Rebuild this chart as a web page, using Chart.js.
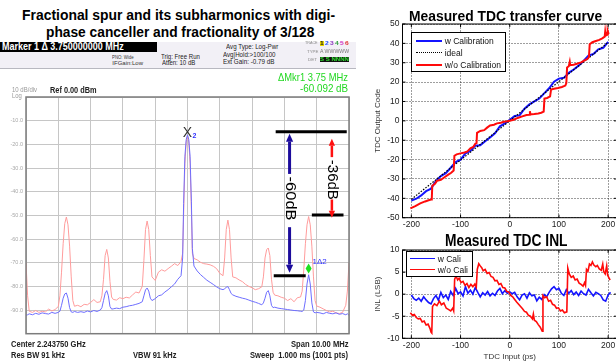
<!DOCTYPE html>
<html>
<head>
<meta charset="utf-8">
<script src="https://cdn.jsdelivr.net/npm/chart.js@4.4.1/dist/chart.umd.min.js"></script>
<style>
  body { margin: 0; width: 616px; height: 363px; overflow: hidden; background: #fff; position: relative; font-family: "Liberation Sans", Arial, sans-serif; }
  canvas, .t, .box { position: absolute; }
  .t { white-space: pre; transform-origin: 0 50%; line-height: 1; }
  .legend { position: absolute; background: #fff; border: 1.3px solid #000; box-sizing: border-box; }
  .legend .sample { position: absolute; height: 0; }
  .legend .lbl { position: absolute; white-space: nowrap; line-height: 1; transform: translateY(-50%); color: #111; }
</style>
</head>
<body>
<div class="box" style="left:0;top:42px;width:356px;height:26px;background:#f2f0f6;border-bottom:1px solid #b8b8c0;"></div>
<div class="box" style="left:0;top:41.7px;width:157px;height:10.6px;background:#000;"></div>
<canvas id="spec" width="360" height="250" style="left:0;top:90px"></canvas>
<canvas id="tdc" width="262" height="235" style="left:360px;top:0"></canvas>
<canvas id="inl" width="262" height="123" style="left:360px;top:240px"></canvas>
<div id="texts"></div>
<div id="legTdc" class="legend" style="left:410.7px;top:32.3px;width:95px;height:39.4px"></div>
<div id="legInl" class="legend" style="left:405.7px;top:251px;width:67.3px;height:26.3px"></div>
<script>
// Spectrum: offset from 2.243750 GHz in MHz, level in dBm
const specFreqMHz = [-5.0, -4.95, -4.9, -4.8, -4.7, -4.6, -4.5, -4.4, -4.3, -4.2, -4.1, -4.0, -3.95, -3.9, -3.85, -3.8, -3.75, -3.7, -3.65, -3.6, -3.55, -3.5, -3.4, -3.3, -3.2, -3.1, -3.0, -2.9, -2.8, -2.7, -2.65, -2.6, -2.55, -2.5, -2.45, -2.4, -2.35, -2.3, -2.2, -2.1, -2.0, -1.9, -1.8, -1.7, -1.6, -1.5, -1.4, -1.35, -1.3, -1.25, -1.2, -1.15, -1.1, -1.0, -0.9, -0.8, -0.7, -0.6, -0.5, -0.4, -0.3, -0.2, -0.15, -0.12, -0.08, -0.04, 0, 0.04, 0.08, 0.12, 0.15, 0.2, 0.3, 0.4, 0.5, 0.6, 0.7, 0.8, 0.9, 1.0, 1.1, 1.15, 1.2, 1.25, 1.3, 1.35, 1.4, 1.5, 1.6, 1.7, 1.8, 1.9, 2.0, 2.1, 2.2, 2.3, 2.35, 2.4, 2.45, 2.5, 2.55, 2.6, 2.65, 2.7, 2.8, 2.9, 3.0, 3.1, 3.2, 3.3, 3.4, 3.5, 3.55, 3.6, 3.65, 3.7, 3.75, 3.8, 3.85, 3.9, 3.95, 4.0, 4.1, 4.2, 4.3, 4.4, 4.5, 4.6, 4.7, 4.8, 4.9, 4.95, 5.0];
const specWithoutCanceller = [-70, -84, -90.5, -91, -90.2, -91, -90.5, -90.8, -89.6, -90.4, -89.8, -88.5, -84, -74, -62, -53.5, -50.7, -54, -63, -76, -86, -88.4, -88, -88.6, -87.6, -87.8, -86.8, -85.6, -86.8, -86.5, -84, -77, -67, -64.4, -68, -78, -84.5, -85.5, -85.8, -84.8, -85.2, -84.6, -84.9, -83.6, -82.4, -82.8, -80, -69, -56, -52.4, -56, -67, -76, -77.5, -74, -73, -73.6, -72.5, -71.5, -70.4, -71.2, -69.5, -66, -50, -28, -19, -16.5, -19, -28, -48, -66, -68.2, -68.8, -69.8, -70.4, -70.6, -70.9, -71.5, -72.5, -74.5, -75.5, -68, -56, -52, -56, -68, -76, -76.4, -77.3, -78, -79.2, -80, -80.6, -81.4, -81, -80.2, -76, -68, -64.5, -63.8, -67, -77, -82.5, -83.7, -84, -84.6, -85, -86, -85.2, -86.5, -84.8, -84.5, -82, -73, -62, -54, -50.5, -54, -63, -76, -86, -88.3, -88.8, -89.5, -90.2, -90.8, -90.5, -91.2, -91.5, -91, -88, -82, -70];
const specWithCanceller = [-92.2, -92.0, -91.6, -92.0, -91.4, -91.8, -91.2, -91.5, -91.7, -91.0, -91.4, -91.0, -90.5, -88, -85, -83.2, -82.8, -85, -89, -90.8, -91, -90.6, -91, -90.7, -91, -90.4, -90.8, -90.2, -90.6, -90, -89, -86, -83, -81.8, -84, -88.5, -89.6, -89.5, -89.2, -89.4, -88.8, -88.6, -88.2, -88, -87.6, -87.2, -86.5, -84, -81.5, -80.7, -82, -85, -86, -85.2, -84, -83.6, -82.4, -81.4, -80.2, -79, -77, -75.5, -68, -45, -25, -18, -16, -18, -25, -44, -64, -71.4, -73.5, -75, -76.2, -77.4, -78.3, -79.2, -80.2, -81, -81.4, -81, -80.4, -80.1, -81.4, -83, -83.6, -84.2, -84.6, -85, -85.3, -85.8, -86.3, -86.7, -87.2, -87.8, -87, -85, -82.5, -81.8, -84, -88, -89, -88.8, -89.2, -89.4, -89.6, -89.8, -90, -90.2, -90.3, -90.5, -90.6, -90, -86, -79, -75.1, -79, -87, -90.8, -91.2, -91, -91.2, -91.6, -91, -91.4, -91.6, -91.2, -91.8, -91.5, -92, -91.6, -92.2];
const specDbTicks = [-10, -20, -30, -40, -50, -60, -70, -80, -90];

// TDC transfer curve
const psTicks = [-200, -100, 0, 100, 200];
const codeTicks = [-50, -40, -30, -20, -10, 0, 10, 20, 30, 40, 50];
const tdcInputPs = [-200, -190, -180, -170, -160, -150, -140, -130, -120, -110, -100, -90, -80, -70, -60, -50, -40, -30, -20, -10, 0, 10, 20, 30, 40, 50, 60, 70, 80, 90, 100, 110, 120, 130, 140, 150, 160, 170, 180, 190, 200];
const codeWithCal = [-41.2, -40.2, -38.5, -36.3, -35.0, -31.0, -28.5, -27.0, -24.2, -21.3, -20.0, -16.8, -15.5, -12.8, -12.6, -10.5, -8.6, -6.4, -2.8, -1.3, 0.5, 2.5, 2.8, 6.3, 8.5, 10.0, 11.5, 14.2, 16.8, 20.2, 21.8, 22.2, 24.8, 26.5, 28.5, 30.9, 33.7, 34.5, 36.9, 37.7, 40.8];
const idealPs = [-200, 200];
const idealCode = [-40.5, 40.5];
const noCalPs = [-202, -192, -182, -172, -165, -160, -158.5, -157.5, -152, -148, -140, -132, -125, -119, -114, -112.5, -108, -100, -92, -86, -80, -74, -70, -67.5, -66.5, -60, -52, -46, -40, -32, -26, -18, -12, -5, 0, 8, 16, 24, 34, 40, 41, 42, 50, 58, 64, 69, 70.5, 76, 82, 84, 90, 98, 106, 113, 115, 116.5, 120, 122, 123, 130, 138, 145, 152, 158, 161, 162.5, 168, 175, 182, 188, 193, 194, 195, 198, 199, 201];
const codeNoCal = [-45.2, -44.0, -42.6, -41.6, -41.0, -40.6, -40.5, -33.5, -32.5, -31.0, -30.4, -29.0, -27.8, -26.8, -25.6, -18.0, -17.3, -16.8, -16.3, -15.8, -14.2, -13.4, -11.8, -11.5, -6.2, -5.2, -4.8, -3.5, -2.4, -2.0, -1.3, -1.0, -0.5, -0.2, 0.1, 0.6, 1.5, 2.2, 3.0, 3.2, 5.0, 3.3, 3.5, 3.8, 4.2, 4.8, 11.5, 11.8, 12.6, 16.2, 16.6, 17.0, 17.5, 18.2, 19.5, 27.5, 28.2, 30.5, 28.8, 29.0, 29.6, 30.2, 31.2, 32.0, 33.0, 39.5, 40.6, 41.2, 41.8, 42.6, 43.5, 46.0, 44.0, 44.5, 46.5, 44.8];

// TDC INL
const inlTicks = [-10, -5, 0, 5, 10];
const inlCaliPs = [-200, -195, -190, -185, -180, -175, -170, -165, -160, -155, -150, -145, -140, -135, -130, -125, -120, -115, -110, -105, -100, -95, -90, -85, -80, -75, -70, -65, -60, -55, -50, -45, -40, -35, -30, -25, -20, -15, -10, -5, 0, 5, 10, 15, 20, 25, 30, 35, 40, 45, 50, 55, 60, 65, 70, 75, 80, 85, 90, 95, 100, 105, 110, 115, 120, 125, 130, 135, 140, 145, 150, 155, 160, 165, 170, 175, 180, 185, 190, 195, 200, 205];
const inlCali = [-0.2, -1.0, -1.4, -0.9, -1.6, -0.6, -1.3, -1.9, -2.2, -1.0, -0.3, -1.4, 0.4, -0.8, -0.2, -1.2, 0.6, -0.3, 1.3, 0.1, 0.5, -0.4, 1.7, 0.2, 0.9, 0.0, 1.5, 0.4, -0.6, 0.3, -0.2, 0.6, -0.4, 0.2, -0.3, 0.7, 1.3, 0.1, 0.8, 0.2, 0.5, 0.1, 0.4, -0.6, -1.3, -0.2, 0.1, -0.9, 0.3, -0.4, -0.2, -1.5, -0.7, -1.2, -0.1, -0.6, 0.4, 1.2, 1.7, 1.0, 1.3, 0.2, -0.3, 1.0, 0.2, 0.8, -0.1, 0.5, -0.3, 0.7, 0.1, -0.2, 1.1, 0.3, -0.4, 0.4, 0.1, -0.3, -1.3, -1.6, -0.2, 0.4];
const inlNoCaliPs = [-202, -198, -194, -190, -186, -182, -178, -174, -170, -166, -162, -160, -158.5, -157, -153, -148, -143, -139, -134, -129, -124, -120, -116, -114, -112, -109, -106, -103, -99, -95, -91, -87, -83, -79, -75, -71, -68, -66, -63, -60, -57, -54, -50, -46, -42, -38, -34, -30, -26, -22, -18, -14, -10, -6, -2, 2, 6, 10, 14, 18, 22, 26, 30, 34, 38, 42, 46, 48, 50, 54, 58, 62, 66, 67.5, 71, 75, 79, 83, 87, 91, 95, 99, 103, 107, 111, 116, 118, 121, 125, 129, 133, 137, 141, 145, 149, 152, 154, 156, 159, 162, 165, 168, 171, 175, 178, 182, 186, 189, 191, 194, 197, 199, 202, 204];
const inlNoCali = [-4.2, -4.8, -4.6, -5.3, -5.6, -5.5, -6.3, -6.1, -7.0, -6.8, -7.8, -8.6, -8.8, -2.8, -2.2, -2.6, -1.6, -2.4, -2.0, -3.2, -3.5, -3.8, -3.2, -3.8, 3.4, 4.1, 3.2, 3.6, 2.6, 2.9, 2.0, 2.4, 1.5, 2.2, 1.7, 2.3, 1.6, 5.6, 6.9, 6.4, 6.0, 5.3, 5.6, 4.7, 4.9, 4.0, 3.8, 3.0, 3.1, 2.2, 2.4, 1.5, 1.4, 0.6, 0.5, -0.3, -0.6, -1.2, -1.8, -2.3, -2.8, -3.3, -3.9, -4.1, -4.8, -5.0, -5.6, -4.5, -5.9, -6.2, -6.9, -7.5, -8.4, -0.3, -0.8, -0.6, -1.6, -1.4, -2.3, -2.5, -3.2, -3.1, -3.8, -3.6, -4.2, -4.0, 5.9, 4.6, 3.8, 4.1, 3.2, 3.4, 2.5, 2.2, 1.8, 2.6, 2.0, 5.6, 5.2, 6.8, 6.5, 7.3, 6.6, 6.2, 6.5, 5.7, 5.4, 6.8, 5.1, 4.6, 6.4, 4.3, 3.6, 3.2];

Chart.defaults.font.family = '"Liberation Sans", Arial, sans-serif';
Chart.defaults.color = '#222';

const pts = (xs, ys) => xs.map((x, i) => ({ x: x, y: ys[i] }));

// frame around the plot area, with optional inward ticks (matlab style)
const boxPlugin = {
  id: 'box',
  afterDraw(chart, args, o) {
    const { ctx, chartArea: a, scales } = chart;
    ctx.save();
    ctx.strokeStyle = o.color;
    ctx.lineWidth = o.width;
    ctx.strokeRect(a.left, a.top, a.right - a.left, a.bottom - a.top);
    if (o.tick) {
      ctx.lineWidth = 1;
      ctx.beginPath();
      scales.x.ticks.forEach(t => {
        const p = scales.x.getPixelForValue(t.value);
        ctx.moveTo(p, a.bottom); ctx.lineTo(p, a.bottom - o.tick);
        ctx.moveTo(p, a.top); ctx.lineTo(p, a.top + o.tick);
      });
      scales.y.ticks.forEach(t => {
        const p = scales.y.getPixelForValue(t.value);
        ctx.moveTo(a.left, p); ctx.lineTo(a.left + o.tick, p);
        ctx.moveTo(a.right, p); ctx.lineTo(a.right - o.tick, p);
      });
      ctx.stroke();
    }
    ctx.restore();
  }
};

function arrow(ctx, x, y0, y1, color, w, head) {
  const dir = Math.sign(y1 - y0);
  ctx.strokeStyle = color;
  ctx.fillStyle = color;
  ctx.lineWidth = w;
  ctx.beginPath();
  ctx.moveTo(x, y0);
  ctx.lineTo(x, y1 - dir * head);
  ctx.stroke();
  ctx.beginPath();
  ctx.moveTo(x, y1);
  ctx.lineTo(x - head * 0.45, y1 - dir * head);
  ctx.lineTo(x + head * 0.45, y1 - dir * head);
  ctx.closePath();
  ctx.fill();
}

function vtext(ctx, s, x, y, len) {
  ctx.save();
  ctx.translate(x, y);
  ctx.rotate(Math.PI / 2);
  ctx.font = '14px "Liberation Sans"';
  ctx.fillStyle = '#000';
  ctx.textAlign = 'center';
  ctx.textBaseline = 'middle';
  ctx.scale(len / ctx.measureText(s).width, 1);
  ctx.fillText(s, 0, 0);
  ctx.restore();
}

// level bars, arrows and markers on the spectrum
const specMarks = {
  id: 'specMarks',
  afterDatasetsDraw(chart) {
    const { ctx, scales: { x, y } } = chart;
    const X = v => x.getPixelForValue(v), Y = v => y.getPixelForValue(v);
    ctx.save();
    ctx.strokeStyle = '#000';
    ctx.lineWidth = 3;
    [[2.73, 4.93, -14.7], [3.85, 4.83, -49.9], [2.67, 3.66, -75.5]].forEach(([a, b, v]) => {
      ctx.beginPath(); ctx.moveTo(X(a), Y(v)); ctx.lineTo(X(b), Y(v)); ctx.stroke();
    });
    arrow(ctx, X(3.16), Y(-32.5), Y(-15.5), '#1c0c9c', 3, 8);
    arrow(ctx, X(3.16), Y(-55), Y(-74.2), '#1c0c9c', 3, 8);
    arrow(ctx, X(4.47), Y(-25.4), Y(-17.6), '#ff1010', 2.5, 7);
    arrow(ctx, X(4.47), Y(-43.3), Y(-51), '#ff1010', 2.5, 7);
    vtext(ctx, '-60dB', X(3.16), Y(-42.9), 44);
    vtext(ctx, '-36dB', X(4.47), Y(-35), 40);

    ctx.textAlign = 'center';
    ctx.textBaseline = 'middle';
    ctx.fillStyle = '#333';
    ctx.font = '14px "Liberation Sans"';
    ctx.fillText('X', X(0), Y(-15.3));
    ctx.fillStyle = '#3030ff';
    ctx.font = 'bold 7px "Liberation Sans"';
    ctx.fillText('2', X(0) + 7, Y(-16.3));

    const dx = X(3.75), dy = Y(-72.5);
    ctx.fillStyle = '#20e020';
    ctx.beginPath();
    ctx.moveTo(dx, dy - 5); ctx.lineTo(dx + 3, dy); ctx.lineTo(dx, dy + 5); ctx.lineTo(dx - 3, dy);
    ctx.closePath(); ctx.fill();
    ctx.fillStyle = '#3030ff';
    ctx.textAlign = 'left';
    ctx.font = '8px "Liberation Sans"';
    ctx.fillText('1\u03942', X(3.87), Y(-69.6));
    ctx.restore();
  }
};

const specGrid = { color: '#c6c6c6', drawTicks: false };

new Chart(document.getElementById('spec'), {
  type: 'line',
  data: {
    datasets: [
      { label: 'with canceller', data: pts(specFreqMHz, specWithCanceller), borderColor: '#6e6eff', borderWidth: 1, pointRadius: 0, order: 0 },
      { label: 'without canceller', data: pts(specFreqMHz, specWithoutCanceller), borderColor: '#ff9c9c', borderWidth: 1, pointRadius: 0, order: 1 }
    ]
  },
  options: {
    responsive: false,
    animation: false,
    events: [],
    layout: { padding: { top: 7, right: 11, bottom: 3, left: 0 } },
    plugins: { legend: { display: false }, tooltip: { enabled: false }, box: { color: '#7c7c7c', width: 1.5 } },
    scales: {
      x: {
        type: 'linear', min: -5, max: 5,
        ticks: { display: false, stepSize: 1 },
        grid: specGrid, border: { display: false },
        afterFit: s => { s.height = 0; }
      },
      y: {
        min: -100, max: 0,
        ticks: { stepSize: 10, padding: 3, color: '#a8a8a8', font: { size: 5.5 }, callback: v => specDbTicks.includes(v) ? v.toFixed(1) : '' },
        grid: specGrid, border: { display: false },
        afterFit: s => { s.width = 26; }
      }
    }
  },
  plugins: [boxPlugin, specMarks]
});

function matlabScales(yMin, yMax, yTicks, yTitle, xTitle, xAxisH) {
  const grid = { color: 'rgba(0,0,0,0.38)', drawTicks: false };
  const border = { display: false, dash: [2, 1] };
  return {
    x: {
      type: 'linear', min: -218, max: 218, grid: grid, border: border,
      afterBuildTicks: s => { s.ticks = psTicks.map(v => ({ value: v })); },
      afterFit: s => { s.height = xAxisH; },
      ticks: { padding: 2, color: '#222', font: { size: 8.5 } },
      title: xTitle ? { display: true, text: xTitle, color: '#333', font: { size: 8 }, padding: { top: 0, bottom: 1.2 } } : { display: false }
    },
    y: {
      min: yMin, max: yMax, grid: grid, border: border,
      afterBuildTicks: s => { s.ticks = yTicks.map(v => ({ value: v })); },
      afterFit: s => { s.width = 42.5; },
      ticks: { padding: 3, color: '#222', font: { size: 8.5 } },
      title: { display: true, text: yTitle, color: '#333', font: { size: 8 }, padding: { top: 13.2, bottom: 0 } }
    }
  };
}

const tdcChart = new Chart(document.getElementById('tdc'), {
  type: 'line',
  data: {
    datasets: [
      { label: 'w Calibration', data: pts(tdcInputPs, codeWithCal), borderColor: '#1414ff', borderWidth: 2, pointRadius: 0, order: 3 },
      { label: 'ideal', data: pts(idealPs, idealCode), borderColor: '#000', borderWidth: 1.2, borderDash: [1.5, 1.5], pointRadius: 0, order: 2 },
      { label: 'w/o Calibration', data: pts(noCalPs, codeNoCal), borderColor: '#ff0a0a', borderWidth: 2, pointRadius: 0, order: 1 }
    ]
  },
  options: {
    responsive: false,
    animation: false,
    events: [],
    layout: { padding: { top: 24, right: 5, bottom: 0, left: 0 } },
    plugins: { legend: { display: false }, tooltip: { enabled: false }, box: { color: '#000', width: 1, tick: 3 } },
    scales: matlabScales(-50, 50, codeTicks, 'TDC Output Code', null, 17.3)
  },
  plugins: [boxPlugin]
});

const inlChart = new Chart(document.getElementById('inl'), {
  type: 'line',
  data: {
    datasets: [
      { label: 'w Cali', data: pts(inlCaliPs, inlCali), borderColor: '#1414ff', borderWidth: 1.6, pointRadius: 0, order: 2 },
      { label: 'w/o Cali', data: pts(inlNoCaliPs, inlNoCali), borderColor: '#ff0a0a', borderWidth: 1.6, pointRadius: 0, order: 1 }
    ]
  },
  options: {
    responsive: false,
    animation: false,
    events: [],
    layout: { padding: { top: 10, right: 5, bottom: 0, left: 0 } },
    plugins: { legend: { display: false }, tooltip: { enabled: false }, box: { color: '#000', width: 1, tick: 3 } },
    scales: matlabScales(-10, 10, inlTicks, 'INL (LSB)', 'TDC Input (ps)', 24.7)
  },
  plugins: [boxPlugin]
});

// legends in boxes inside the axes
function buildLegend(id, chart, rows, sx0, sx1, tx, size) {
  const el = document.getElementById(id);
  chart.data.datasets.forEach((ds, i) => {
    const s = document.createElement('div');
    s.className = 'sample';
    s.style.cssText = `left:${sx0}px;width:${sx1 - sx0}px;top:${rows[i] - ds.borderWidth / 2}px;border-top:${ds.borderWidth}px ${ds.borderDash ? 'dotted' : 'solid'} ${ds.borderColor}`;
    el.appendChild(s);
    const l = document.createElement('div');
    l.className = 'lbl';
    l.style.cssText = `left:${tx}px;top:${rows[i]}px;font-size:${size}px`;
    l.textContent = ds.label;
    el.appendChild(l);
  });
}
buildLegend('legTdc', tdcChart, [7.4, 19.4, 32.1], 4, 30, 33, 8.5);
buildLegend('legInl', inlChart, [6.7, 17.7], 3.7, 28, 31, 8.5);

// page text: [text, left, centre y, width, size, weight, colour, background]
const texts = [
  ['Fractional spur and its subharmonics with digi-', 22, 15, 313, 14, 'bold', '#000'],
  ['phase canceller and fractionality of 3/128', 45.7, 31.7, 268.3, 14, 'bold', '#000'],
  ['Measured TDC transfer curve', 409.3, 15.3, 193, 15, 'bold', '#000'],
  ['Measured TDC INL', 445, 240.8, 122.3, 16, 'bold', '#000'],
  ['Marker 1 \u0394 3.750000000 MHz', 1.5, 47, 122, 10, 'bold', '#fff'],
  ['PNO: Wide', 111.7, 56.7, 21.6, 6, 'normal', '#333'],
  ['IFGain:Low', 112.3, 63.3, 31, 6, 'normal', '#333'],
  ['Trig: Free Run', 161.3, 56, 39, 7, 'normal', '#222'],
  ['Atten: 10 dB', 162.3, 62.3, 33.7, 7, 'normal', '#222'],
  ['Avg Type: Log-Pwr', 226.3, 46.7, 52.4, 7, 'normal', '#222'],
  ['Avg|Hold:>100/100', 223.3, 54, 53, 7, 'normal', '#222'],
  ['Ext Gain: -0.79 dB', 222.7, 61.7, 51.3, 7, 'normal', '#222'],
  ['TRACE', 305.3, 43.3, 13, 4, 'normal', '#888'],
  ['TYPE', 306.5, 51.5, 11, 4, 'normal', '#888'],
  ['DET', 308, 59.7, 9, 4, 'normal', '#888'],
  ['1', 320, 43.3, 4, 5, 'bold', '#222', '#e8d800'],
  ['2', 325, 43.3, 4, 5, 'bold', '#2050ff'],
  ['3', 330, 43.3, 4, 5, 'bold', '#9040c0'],
  ['4', 335, 43.3, 4, 5, 'bold', '#30a040'],
  ['5', 340, 43.3, 4, 5, 'bold', '#d030c0'],
  ['6', 345, 43.3, 4, 5, 'bold', '#e03030'],
  ['A WWWWW', 320, 51.5, 29, 5, 'normal', '#777'],
  ['S S NNNN', 320, 59.7, 29, 5, 'bold', '#30e030', '#111'],
  ['\u0394Mkr1 3.75 MHz', 278.3, 77.2, 70, 11, 'normal', '#22d822'],
  ['-60.092 dB', 300, 88, 48.3, 11, 'normal', '#22d822'],
  ['10 dB/div', 11.7, 90, 25, 6.5, 'normal', '#999'],
  ['Ref 0.00 dBm', 50, 90, 46.7, 8.5, 'bold', '#222'],
  ['Log', 11.7, 96.3, 10, 6.5, 'normal', '#999'],
  ['Center 2.243750 GHz', 10.7, 344, 74.6, 8.5, 'bold', '#222'],
  ['Res BW 91 kHz', 10.7, 355, 53.6, 8.5, 'bold', '#222'],
  ['VBW 91 kHz', 133.3, 355, 43.4, 8.5, 'bold', '#222'],
  ['Span 10.00 MHz', 291, 344, 57.3, 8.5, 'bold', '#222'],
  ['Sweep  1.000 ms (1001 pts)', 250, 355, 98.3, 8.5, 'bold', '#222']
];
const holder = document.getElementById('texts');
texts.forEach(([s, x, cy, w, size, weight, color, bg]) => {
  const d = document.createElement('div');
  d.className = 't';
  d.textContent = s;
  d.style.cssText = `left:${x}px;top:${cy - size / 2}px;font-size:${size}px;font-weight:${weight};color:${color};` + (bg ? `background:${bg};` : '');
  holder.appendChild(d);
  d.style.transform = `scaleX(${w / d.offsetWidth})`;
});
</script>
</body>
</html>
